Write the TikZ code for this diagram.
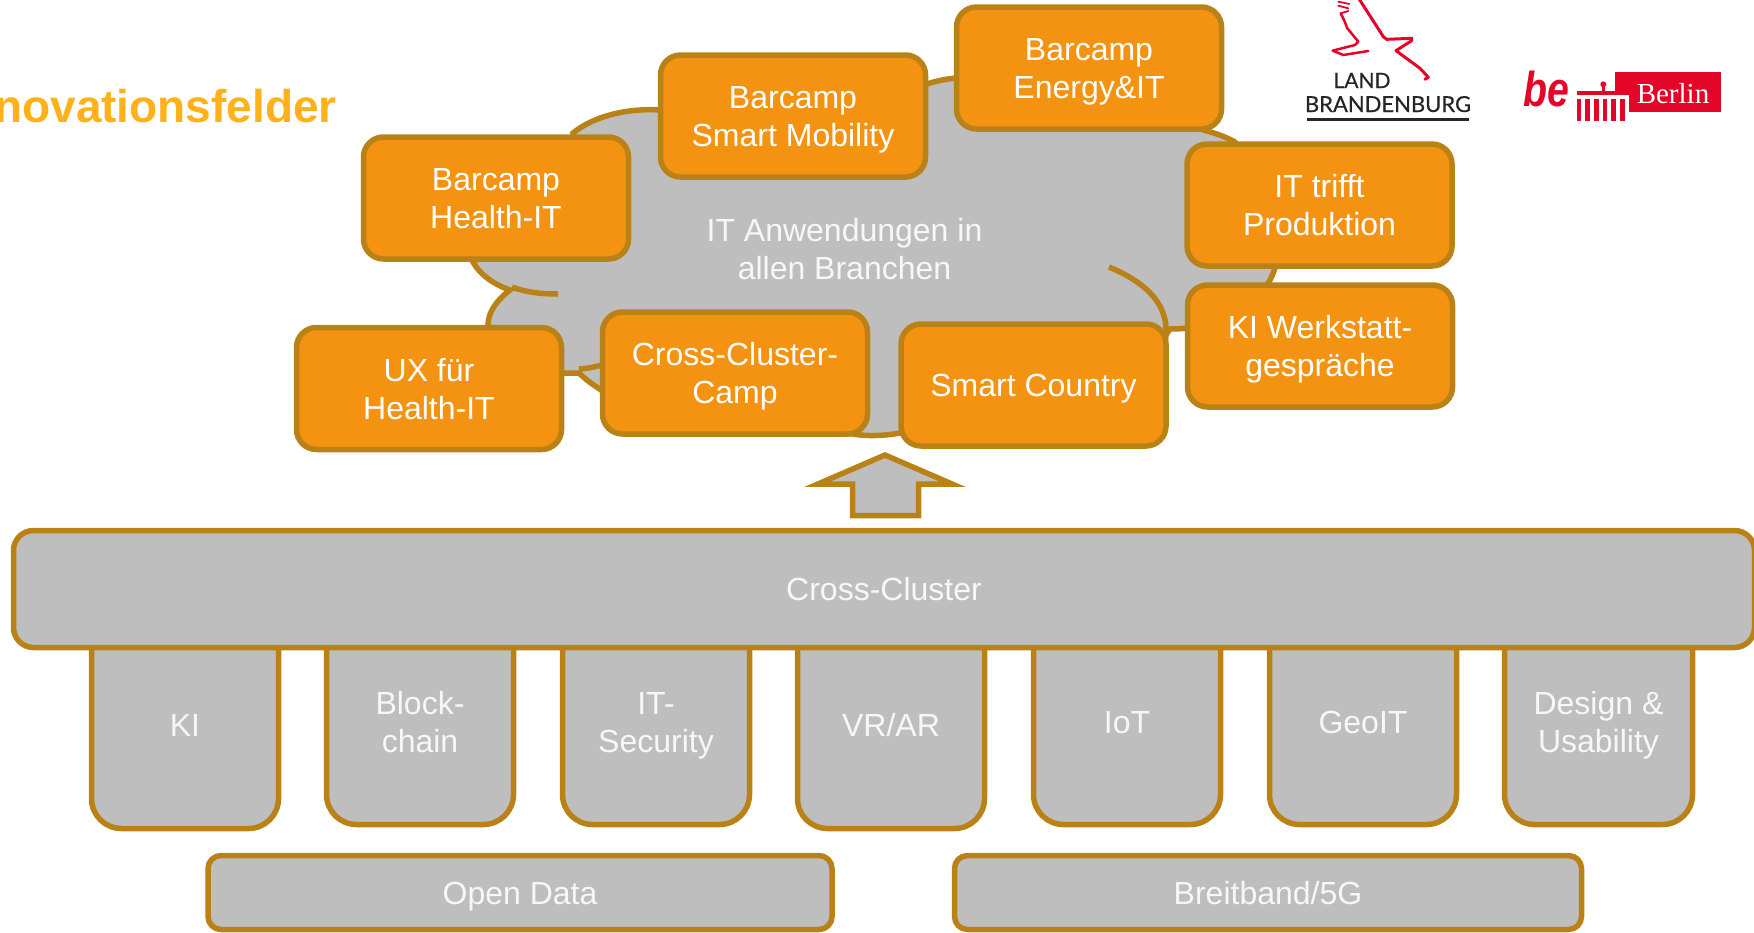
\documentclass[tikz,border=0pt]{standalone}
\usepackage{fontspec}
\setmainfont{Liberation Sans}
\newfontfamily\logofont[FakeBold=0.5]{Lato}
\newfontfamily\serifont{Liberation Serif}
\definecolor{stroke}{HTML}{BA8116}
\definecolor{boxorange}{HTML}{F39311}
\definecolor{boxgray}{HTML}{BEBEBE}
\definecolor{titleorange}{HTML}{FFB119}
\definecolor{logored}{HTML}{E30628}
\definecolor{softwhite}{HTML}{F7F7F7}
\newcommand{\tstrut}{\rule[-10pt]{0pt}{58pt}}
\newcommand{\oneline}[1]{\raisebox{7.2pt}{#1}}
\newcommand{\twolines}[2]{\smash{\raisebox{-11.7pt}{#1}}\\\smash{\raisebox{-11.7pt}{#2}}}
\tikzset{
  boxtext/.style={align=center,inner sep=0pt,font=\fontsize{32}{38}\selectfont,execute at begin node=\tstrut,execute at end node=\tstrut},
  orangebox/.style={boxtext,draw=stroke,fill=boxorange,line width=5.5pt,rounded corners=20pt,minimum width=265pt,minimum height=122pt,text=white},
  graybox/.style={boxtext,draw=stroke,fill=boxgray,line width=5.5pt,text=softwhite},
  graytext/.style={boxtext,text=softwhite},
  cloudline/.style={draw=stroke,line width=5.5pt},
  redstroke/.style={draw=logored,line width=3pt,line cap=round,line join=round},
  redfill/.style={fill=logored,draw=none},
  whitefill/.style={fill=white,draw=none}
}
\newcommand{\pillar}[6]{%
  \draw[cloudline,fill=boxgray,rounded corners=30pt] (#2,640) -- (#2,#4) -- (#3,#4) -- (#3,640);
  \node[graytext] (#1) at ({(#2+#3)/2},#5) {#6};
}
\begin{document}
\begin{tikzpicture}[x=1pt,y=-1pt]
\useasboundingbox (0,0) rectangle (1754,932);
\begin{scope}
\clip (0,0) rectangle (1754,932);
\node[anchor=base east,inner sep=0pt,text=titleorange,font=\fontsize{46}{50}\selectfont\bfseries] (title) at (337,122) {Innovationsfelder};

% cloud
\path[cloudline,fill=boxgray]
  (573,133) .. controls (595,115) and (630,108) .. (660,110)
  -- (800,100) -- (927,84)
  .. controls (936,81) and (946,79) .. (956,78)
  -- (1100,100) -- (1207,131)
  .. controls (1218,134) and (1228,138) .. (1235,142)
  -- (1285,210)
  -- (1275,268)
  .. controls (1273,274) and (1271,279) .. (1268,283)
  -- (1240,320) -- (1187,328)
  .. controls (1180,329) and (1175,329) .. (1170,329)
  -- (1100,430) -- (900,433)
  .. controls (890,435) and (870,437) .. (853,434)
  -- (700,420) -- (601,390)
  .. controls (592,384) and (585,379) .. (579,373)
  -- (570,373) -- (520,373) -- (488,325)
  .. controls (488,312) and (497,300) .. (510,290)
  .. controls (495,285) and (480,275) .. (473,262)
  -- (590,190) -- cycle;
\draw[cloudline] (512,287) .. controls (525,292) and (540,294) .. (558,294);
\draw[cloudline] (1109,267) .. controls (1145,282) and (1172,305) .. (1165,342);
\draw[cloudline] (579,369) .. controls (585,369) and (593,367) .. (603,365);

% arrow
\draw[cloudline,fill=boxgray,miter limit=10]
  (885,455) -- (952,484) -- (918.5,484) -- (918.5,515.5) -- (852.5,515.5) -- (852.5,484) -- (818,484) -- cycle;

% top boxes
\node[orangebox] (health) at (496,198) {\twolines{Barcamp}{Health-IT}};
\node[orangebox] (mobility) at (793,116) {\twolines{Barcamp}{Smart Mobility}};
\node[orangebox] (energy) at (1089,68) {\twolines{Barcamp}{Energy\&IT}};
\node[orangebox] (trifft) at (1319.5,205) {\twolines{IT trifft}{Produktion}};
\node[orangebox] (werkstatt) at (1320,346) {\twolines{KI Werkstatt-}{gespräche}};
\node[orangebox] (country) at (1033.5,385) {\oneline{Smart Country}};
\node[orangebox] (camp) at (735,373) {\twolines{Cross-Cluster-}{Camp}};
\node[orangebox] (ux) at (429,388.5) {\twolines{UX für}{Health-IT}};
\node[graytext] (anwendungen) at (844.5,249) {\twolines{IT Anwendungen in}{allen Branchen}};

% pillars
\pillar{ki}{91.5}{278.5}{828.5}{725}{\oneline{KI}}
\pillar{block}{326.5}{513.5}{824.5}{722}{\twolines{Block-}{chain}}
\pillar{security}{562.5}{749.5}{824.5}{722}{\twolines{IT-}{Security}}
\pillar{vrar}{797.5}{984.5}{828.5}{725}{\oneline{VR/AR}}
\pillar{iot}{1033.5}{1220.5}{824.5}{722}{\oneline{IoT}}
\pillar{geoit}{1269.5}{1456.5}{824.5}{722}{\oneline{GeoIT}}
\pillar{design}{1504.5}{1692.5}{824.5}{722}{\twolines{Design \&}{Usability}}

\node[graybox,rounded corners=20pt,minimum width=1741pt,minimum height=117pt] (cluster) at (884,589) {\oneline{Cross-Cluster}};
\node[graybox,rounded corners=13pt,minimum width=624pt,minimum height=74pt] (opendata) at (520,892.5) {\oneline{Open Data}};
\node[graybox,rounded corners=13pt,minimum width=627pt,minimum height=74pt] (breitband) at (1268,892.5) {\oneline{Breitband/5G}};

% Brandenburg logo
\begin{scope}[shift={(1320,0)},x=0.3333pt,y=-0.3333pt]
\draw[redstroke] (118,-2) -- (190,110) -- (200,118) -- (275,115) -- (275,122) -- (228,152) -- (300,205) -- (325,232) -- (315,238);
\draw[redstroke,line width=2.5pt] (62,40) -- (72,60) -- (82,85) -- (115,125) -- (105,135) -- (38,152) -- (70,165) -- (145,153);
\draw[redstroke,line width=1.8pt] (55,5) -- (88,12);
\draw[redstroke,line width=1.8pt] (55,17) -- (85,25);
\draw[redstroke,line width=1.8pt] (62,40) -- (85,33);
\end{scope}
\node[anchor=base,inner sep=0pt,text=black!85,font=\logofont\fontsize{21}{22}\selectfont] (land) at (1362,88) {LAND};
\node[anchor=base,inner sep=0pt,text=black!85,font=\logofont\fontsize{22}{24}\selectfont] (brandenburg) at (1388,112) {BRANDENBURG};
\fill[black!85] (1307,118) rectangle (1469,120.5);

% Berlin logo
\begin{scope}[shift={(1510,60)},x=0.3333pt,y=-0.3333pt]
\fill[redfill] (316,37) rectangle (633,155);
\fill[redfill] (200,94) rectangle (358,106);
\fill[whitefill] (316,106) rectangle (358,118);
\fill[whitefill] (318,118) rectangle (330,155);
\fill[whitefill] (345,118) rectangle (358,155);
\foreach \cx in {200,226,252,278,304,330}{\fill[redfill] (\cx,118) rectangle ++(14,64);}
\fill[redfill] (280,73) circle (9);
\fill[redfill] (276,82) rectangle (284,94);
\end{scope}
\node[anchor=base west,inner sep=0pt,text=logored,font=\bfseries\itshape\fontsize{49}{50}\selectfont] (be) at (1523,106.5) {\scalebox{0.8}[1]{be}};
\node[anchor=base,inner sep=0pt,text=white,font=\serifont\fontsize{29}{30}\selectfont] (berlin) at (1673,103) {Berlin};
\end{scope}
\end{tikzpicture}
\end{document}
